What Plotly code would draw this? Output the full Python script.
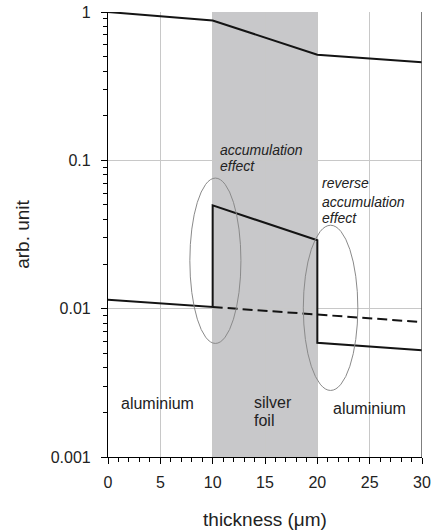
import plotly.graph_objects as go
import math

# ---- data ----
x_top = [0, 10, 20, 30]
y_top = [1.0, 0.877, 0.515, 0.459]

x_mid = [0, 10, 10, 20, 20, 30]
y_mid = [0.0115, 0.01026, 0.0497, 0.0289, 0.00589, 0.00525]

x_dash = [10, 30]
y_dash = [0.01026, 0.00812]

band = [10, 20]  # silver foil region

x_ticks = [0, 5, 10, 15, 20, 25, 30]
y_ticks = [0.001, 0.01, 0.1, 1]
y_ticklabels = ["0.001", "0.01", "0.1", "1"]

# ellipses (x0, x1, y_low, y_high) in data units
ell1 = [7.82, 12.7, 0.00583, 0.0759]
ell2 = [18.66, 23.87, 0.00281, 0.0365]

# text labels: (text, x, y, anchor, italic, size)
labels = [
    ("accumulation", 10.52, 0.1175, "left", True, 14),
    ("effect", 10.52, 0.0915, "left", True, 14),
    ("reverse", 20.3, 0.0700, "left", True, 14),
    ("accumulation", 20.3, 0.0526, "left", True, 14),
    ("effect", 20.3, 0.0409, "left", True, 14),
    ("aluminium", 4.72, 0.00231, "center", False, 16),
    ("silver", 13.72, 0.00234, "left", False, 16),
    ("foil", 13.72, 0.00176, "left", False, 16),
    ("aluminium", 25.02, 0.00212, "center", False, 16),
]

LINE = "#141414"
FONT = "Arial"

fig = go.Figure()
fig.add_trace(go.Scatter(x=x_top, y=y_top, mode="lines",
                         line=dict(color=LINE, width=2), showlegend=False))
fig.add_trace(go.Scatter(x=x_mid, y=y_mid, mode="lines",
                         line=dict(color=LINE, width=2), showlegend=False))
fig.add_trace(go.Scatter(x=x_dash, y=y_dash, mode="lines",
                         line=dict(color=LINE, width=2, dash="10px,5px"), showlegend=False))

# band
fig.add_shape(type="rect", xref="x", yref="paper", x0=band[0], x1=band[1], y0=0, y1=1,
              fillcolor="#c8c8ca", line=dict(width=0), layer="between")
# right border
fig.add_shape(type="line", xref="x", yref="paper", x0=30, x1=30, y0=0, y1=1,
              line=dict(color="#555555", width=1.5), layer="above")
# ellipses
for e in (ell1, ell2):
    fig.add_shape(type="circle", xref="x", yref="y", x0=e[0], x1=e[1], y0=e[2], y1=e[3],
                  line=dict(color="#8a8a8a", width=1), layer="above")

for text, x, y, anchor, italic, size in labels:
    fig.add_annotation(text=text, x=x, y=math.log10(y), xref="x", yref="y",
                       xanchor=anchor, yanchor="middle", showarrow=False,
                       font=dict(family=FONT, size=size, color="#222222",
                                 style="italic" if italic else "normal"))

fig.update_layout(
    width=432, height=530,
    margin=dict(l=108, r=10, t=12, b=73),
    plot_bgcolor="white", paper_bgcolor="white",
    font=dict(family=FONT, size=16, color="#222222"),
    showlegend=False,
)
fig.update_xaxes(
    range=[0, 30], tickvals=x_ticks, showgrid=True, gridcolor="#c8c8c8", gridwidth=1,
    showline=True, linecolor="black", linewidth=1.2, zeroline=False, automargin=False,
    ticks="outside", ticklen=6, tickcolor="black", ticklabelstandoff=5,
    minor=dict(dtick=1, ticks="outside", ticklen=3.5, tickcolor="black", showgrid=False),
    title=dict(text="thickness (\u03bcm)", standoff=22, font=dict(size=19)),
)
fig.update_yaxes(
    type="log", range=[-3, 0], tickvals=y_ticks, ticktext=y_ticklabels,
    showgrid=True, gridcolor="#c8c8c8", gridwidth=1,
    showline=True, linecolor="black", linewidth=1.2, zeroline=False, automargin=False,
    ticks="outside", ticklen=6, tickcolor="black", ticklabelstandoff=7,
    minor=dict(tickvals=[k * 10 ** e for e in (-3, -2, -1) for k in range(2, 10)],
               ticks="outside", ticklen=3.5, tickcolor="black", showgrid=False),
    title=dict(text="arb. unit", standoff=16, font=dict(size=19)),
)

# remove the page's default 8px body margin so the figure fills the window
fig.write_html("out.html", config={"displayModeBar": False},
               post_script="document.body.style.margin='0';")
